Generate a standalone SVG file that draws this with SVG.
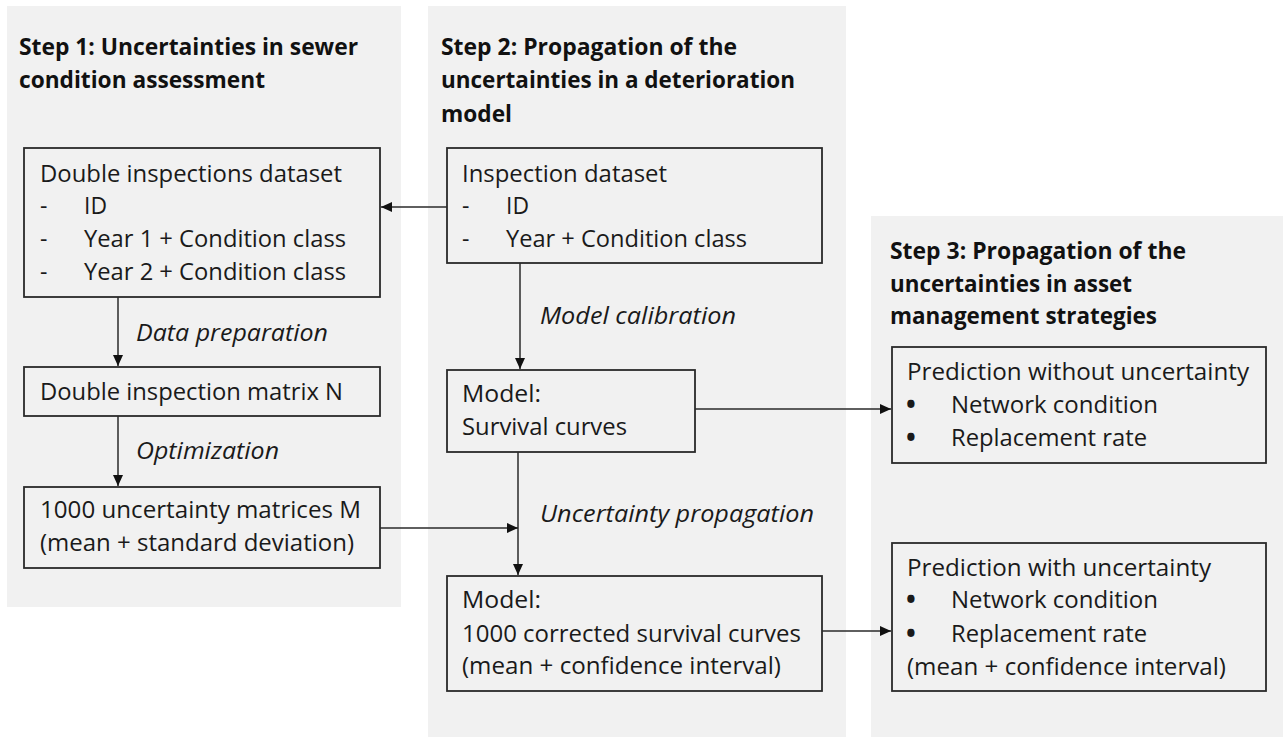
<svg xmlns="http://www.w3.org/2000/svg" width="1283" height="737" viewBox="0 0 1283 737">
  <defs>
    <style>
      .panel { fill: #f1f1f1; stroke: none; }
      .box { fill: none; stroke: #2a2a2a; stroke-width: 1.8; }
      .t { font-family: "Open Sans", "Liberation Sans", sans-serif; font-size: 23px; fill: #1a1a1a; }
      .h { font-family: "Open Sans", "Liberation Sans", sans-serif; font-size: 22.5px; font-weight: bold; fill: #111; }
      .lbl { font-family: "Open Sans", "Liberation Sans", sans-serif; font-size: 23px; font-style: italic; fill: #1a1a1a; }
      .conn { fill: none; stroke: #2a2a2a; stroke-width: 1.5; }
      .bul { font-family: "Open Sans", "Liberation Sans", sans-serif; font-size: 26px; font-weight: bold; fill: #1a1a1a; }
    </style>
    <marker id="arr" markerUnits="userSpaceOnUse" markerWidth="12" markerHeight="10" refX="11" refY="5" orient="auto">
      <path d="M0,0 L11,5 L0,10 Z" fill="#111"/>
    </marker>
  </defs>
  <rect width="1283" height="737" fill="#ffffff"/>

  <g id="panel-step1">
    <rect class="panel" x="7" y="6" width="394" height="601"/>
    <text class="h" x="19" y="55" textLength="339" lengthAdjust="spacingAndGlyphs">Step 1: Uncertainties in sewer</text>
    <text class="h" x="19" y="88" textLength="246" lengthAdjust="spacingAndGlyphs">condition assessment</text>
  </g>
  <g id="panel-step2">
    <rect class="panel" x="428" y="6" width="418" height="731"/>
    <text class="h" x="441" y="55" textLength="296" lengthAdjust="spacingAndGlyphs">Step 2: Propagation of the</text>
    <text class="h" x="441" y="88" textLength="354" lengthAdjust="spacingAndGlyphs">uncertainties in a deterioration</text>
    <text class="h" x="441" y="122" textLength="71" lengthAdjust="spacingAndGlyphs">model</text>
  </g>
  <g id="panel-step3">
    <rect class="panel" x="871" y="216" width="412" height="521"/>
    <text class="h" x="890" y="259" textLength="296" lengthAdjust="spacingAndGlyphs">Step 3: Propagation of the</text>
    <text class="h" x="890" y="292" textLength="242" lengthAdjust="spacingAndGlyphs">uncertainties in asset</text>
    <text class="h" x="890" y="324" textLength="267" lengthAdjust="spacingAndGlyphs">management strategies</text>
  </g>

  <g id="node-double-inspections-dataset">
    <rect class="box" x="24" y="148" width="356" height="149"/>
    <text class="t" x="40" y="182" textLength="302" lengthAdjust="spacingAndGlyphs">Double inspections dataset</text>
    <text class="t" x="40" y="214">-</text>
    <text class="t" x="84" y="214" textLength="23" lengthAdjust="spacingAndGlyphs">ID</text>
    <text class="t" x="40" y="247">-</text>
    <text class="t" x="84" y="247" textLength="262" lengthAdjust="spacingAndGlyphs">Year 1 + Condition class</text>
    <text class="t" x="40" y="280">-</text>
    <text class="t" x="84" y="280" textLength="262" lengthAdjust="spacingAndGlyphs">Year 2 + Condition class</text>
  </g>
  <g id="node-double-inspection-matrix">
    <rect class="box" x="24" y="367" width="356" height="49"/>
    <text class="t" x="40" y="400" textLength="303" lengthAdjust="spacingAndGlyphs">Double inspection matrix N</text>
  </g>
  <g id="node-uncertainty-matrices">
    <rect class="box" x="24" y="487" width="356" height="81"/>
    <text class="t" x="40" y="518" textLength="321" lengthAdjust="spacingAndGlyphs">1000 uncertainty matrices M</text>
    <text class="t" x="40" y="551" textLength="314" lengthAdjust="spacingAndGlyphs">(mean + standard deviation)</text>
  </g>

  <g id="node-inspection-dataset">
    <rect class="box" x="447" y="148" width="375" height="115"/>
    <text class="t" x="462" y="182" textLength="205" lengthAdjust="spacingAndGlyphs">Inspection dataset</text>
    <text class="t" x="462" y="214">-</text>
    <text class="t" x="506" y="214" textLength="23" lengthAdjust="spacingAndGlyphs">ID</text>
    <text class="t" x="462" y="247">-</text>
    <text class="t" x="506" y="247" textLength="241" lengthAdjust="spacingAndGlyphs">Year + Condition class</text>
  </g>
  <g id="node-model-survival">
    <rect class="box" x="447" y="370" width="248" height="82"/>
    <text class="t" x="462" y="402" textLength="79" lengthAdjust="spacingAndGlyphs">Model:</text>
    <text class="t" x="462" y="435" textLength="165" lengthAdjust="spacingAndGlyphs">Survival curves</text>
  </g>
  <g id="node-model-corrected">
    <rect class="box" x="447" y="576" width="375" height="115"/>
    <text class="t" x="462" y="608" textLength="79" lengthAdjust="spacingAndGlyphs">Model:</text>
    <text class="t" x="462" y="642" textLength="339" lengthAdjust="spacingAndGlyphs">1000 corrected survival curves</text>
    <text class="t" x="462" y="674" textLength="319" lengthAdjust="spacingAndGlyphs">(mean + confidence interval)</text>
  </g>

  <g id="node-prediction-without">
    <rect class="box" x="892" y="347" width="374" height="116"/>
    <text class="t" x="907" y="380" textLength="342" lengthAdjust="spacingAndGlyphs">Prediction without uncertainty</text>
    <text class="bul" x="906" y="414">•</text>
    <text class="t" x="951" y="413" textLength="207" lengthAdjust="spacingAndGlyphs">Network condition</text>
    <text class="bul" x="906" y="447">•</text>
    <text class="t" x="951" y="446" textLength="196" lengthAdjust="spacingAndGlyphs">Replacement rate</text>
  </g>
  <g id="node-prediction-with">
    <rect class="box" x="892" y="543" width="374" height="148"/>
    <text class="t" x="907" y="576" textLength="304" lengthAdjust="spacingAndGlyphs">Prediction with uncertainty</text>
    <text class="bul" x="906" y="609">•</text>
    <text class="t" x="951" y="608" textLength="207" lengthAdjust="spacingAndGlyphs">Network condition</text>
    <text class="bul" x="906" y="643">•</text>
    <text class="t" x="951" y="642" textLength="196" lengthAdjust="spacingAndGlyphs">Replacement rate</text>
    <text class="t" x="907" y="675" textLength="319" lengthAdjust="spacingAndGlyphs">(mean + confidence interval)</text>
  </g>

  <g id="connectors">
    <line class="conn" x1="447" y1="207" x2="381" y2="207" marker-end="url(#arr)"/>
    <line class="conn" x1="118" y1="297" x2="118" y2="366" marker-end="url(#arr)"/>
    <line class="conn" x1="118" y1="416" x2="118" y2="486" marker-end="url(#arr)"/>
    <line class="conn" x1="520" y1="263" x2="520" y2="369" marker-end="url(#arr)"/>
    <line class="conn" x1="518" y1="452" x2="518" y2="575" marker-end="url(#arr)"/>
    <line class="conn" x1="380" y1="528" x2="518" y2="528" marker-end="url(#arr)"/>
    <line class="conn" x1="695" y1="409" x2="891" y2="409" marker-end="url(#arr)"/>
    <line class="conn" x1="822" y1="631" x2="891" y2="631" marker-end="url(#arr)"/>
    <text class="lbl" x="136" y="341" textLength="192" lengthAdjust="spacingAndGlyphs">Data preparation</text>
    <text class="lbl" x="136" y="459" textLength="143" lengthAdjust="spacingAndGlyphs">Optimization</text>
    <text class="lbl" x="540" y="324" textLength="196" lengthAdjust="spacingAndGlyphs">Model calibration</text>
    <text class="lbl" x="540" y="522" textLength="274" lengthAdjust="spacingAndGlyphs">Uncertainty propagation</text>
  </g>
</svg>
